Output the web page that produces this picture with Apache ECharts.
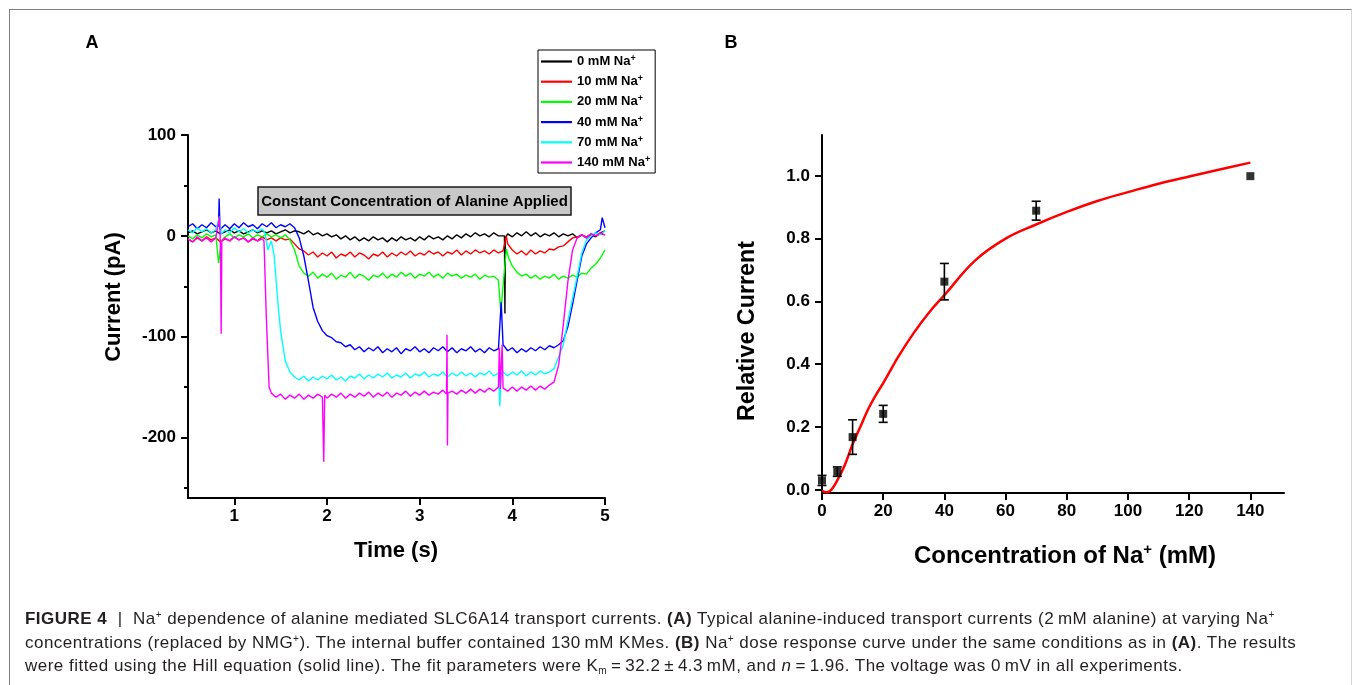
<!DOCTYPE html>
<html>
<head>
<meta charset="utf-8">
<script src="https://cdn.jsdelivr.net/npm/echarts@6/dist/echarts.min.js"></script>
<style>
html,body{margin:0;padding:0;background:#fff;}
#wrap{position:relative;width:1355px;height:685px;overflow:hidden;background:#fff;}
#frame{position:absolute;left:9px;top:9px;width:1343px;height:700px;border-top:1.5px solid #808080;border-left:1.5px solid #808080;border-right:1px solid #d8d8d8;box-sizing:border-box;}
#chart{position:absolute;left:0;top:0;width:1355px;height:685px;}
#cap{position:absolute;left:25px;top:607px;font-family:"Liberation Sans",Arial,sans-serif;font-size:17px;letter-spacing:0.48px;line-height:23.5px;color:#231f20;white-space:nowrap;}
#cap sup{font-size:10px;line-height:0;vertical-align:6px;}
#cap sub{font-size:10px;line-height:0;vertical-align:-3px;}
</style>
</head>
<body>
<div id="wrap">
<div id="frame"></div>
<div id="chart"></div>
<div id="cap">
<div><b>FIGURE 4</b> &nbsp;|&nbsp; Na<sup>+</sup> dependence of alanine mediated SLC6A14 transport currents. <b>(A)</b> Typical alanine-induced transport currents (2&thinsp;mM alanine) at varying Na<sup>+</sup></div>
<div>concentrations (replaced by NMG<sup>+</sup>). The internal buffer contained 130&thinsp;mM KMes. <b>(B)</b> Na<sup>+</sup> dose response curve under the same conditions as in <b>(A)</b>. The results</div>
<div>were fitted using the Hill equation (solid line). The fit parameters were K<sub>m</sub>&thinsp;=&thinsp;32.2&thinsp;±&thinsp;4.3&thinsp;mM, and <i>n</i>&thinsp;=&thinsp;1.96. The voltage was 0&thinsp;mV in all experiments.</div>
</div>
</div>
<script>
// ---------- Panel A data (time in s, current in pA) ----------
const seriesNames = ['0 mM Na+', '10 mM Na+', '20 mM Na+', '40 mM Na+', '70 mM Na+', '140 mM Na+'];
const seriesColors = ['#000000', '#ff0000', '#00ff00', '#0000ff', '#00ffff', '#ff00ff'];
const timeTicks = [1, 2, 3, 4, 5];
const currentTicks = [-200, -100, 0, 100];
const currentMinorTicks = [-250, -150, -50, 50];

const trace0 = [[0.50,3],[0.55,5],[0.60,2],[0.65,4],[0.70,6],[0.75,3],[0.80,5],[0.85,2],[0.90,4],[0.95,6],[1.00,3],[1.05,5],[1.10,2],[1.15,4],[1.20,6],[1.25,3],[1.30,5],[1.35,3],[1.40,5],[1.45,2],[1.50,4],[1.55,6],[1.60,3],[1.65,5],[1.70,4],[1.75,2],[1.80,5],[1.85,1],[1.90,3],[1.95,0],[2.00,2],[2.05,-1],[2.10,1],[2.15,-3],[2.20,0],[2.25,-4],[2.30,-1],[2.35,-5],[2.40,-2],[2.45,-5],[2.50,-1],[2.55,-4],[2.60,-2],[2.65,-6],[2.70,-2],[2.75,-5],[2.80,-1],[2.85,-4],[2.90,-2],[2.95,-5],[3.00,-1],[3.05,-4],[3.10,0],[3.15,-3],[3.20,-1],[3.25,-4],[3.30,0],[3.35,-3],[3.40,1],[3.45,-2],[3.50,2],[3.55,-1],[3.60,3],[3.65,0],[3.70,2],[3.75,-1],[3.80,3],[3.85,0],[3.915,0],[3.92,-77],[3.925,-2],[3.95,2],[4.00,-1],[4.05,3],[4.10,0],[4.15,4],[4.20,0],[4.25,3],[4.30,-1],[4.35,2],[4.40,0],[4.45,3],[4.50,-1],[4.55,2],[4.60,0],[4.65,2],[4.70,-2],[4.75,1],[4.80,-2],[4.85,1],[4.90,-1],[4.95,3],[5.00,5]];

const trace10 = [[0.50,-3],[0.55,-6],[0.60,-2],[0.65,-5],[0.70,-1],[0.75,-4],[0.80,-2],[0.85,-6],[0.90,-3],[0.95,-5],[1.00,-1],[1.05,-4],[1.10,-2],[1.15,-6],[1.20,-3],[1.25,-5],[1.30,-1],[1.35,-4],[1.40,-2],[1.45,-5],[1.50,-2],[1.55,-4],[1.60,-3],[1.65,-8],[1.70,-13],[1.75,-15],[1.80,-19],[1.85,-16],[1.90,-21],[1.95,-17],[2.00,-20],[2.05,-16],[2.10,-22],[2.15,-18],[2.20,-20],[2.25,-16],[2.30,-21],[2.35,-17],[2.40,-19],[2.45,-23],[2.50,-18],[2.55,-20],[2.60,-16],[2.65,-21],[2.70,-17],[2.75,-20],[2.80,-16],[2.85,-19],[2.90,-15],[2.95,-20],[3.00,-17],[3.05,-19],[3.10,-15],[3.15,-18],[3.20,-16],[3.25,-20],[3.30,-16],[3.35,-18],[3.40,-14],[3.45,-19],[3.50,-15],[3.55,-18],[3.60,-14],[3.65,-17],[3.70,-15],[3.75,-18],[3.80,-14],[3.85,-17],[3.90,-15],[3.935,0],[3.95,-8],[4.00,-14],[4.05,-18],[4.10,-15],[4.15,-19],[4.20,-14],[4.25,-18],[4.30,-15],[4.35,-17],[4.40,-13],[4.45,-14],[4.50,-11],[4.55,-10],[4.60,-6],[4.65,-2],[4.70,-1],[4.75,1],[4.80,-1],[4.85,2],[4.90,0],[4.95,2],[5.00,1]];

const trace20 = [[0.50,0],[0.55,-3],[0.60,1],[0.65,-2],[0.70,2],[0.75,-1],[0.80,1],[0.83,-27],[0.86,-5],[0.90,-1],[0.95,2],[1.00,-2],[1.05,1],[1.10,-1],[1.15,2],[1.20,-2],[1.25,1],[1.30,-1],[1.35,2],[1.40,-1],[1.45,1],[1.50,-2],[1.55,1],[1.60,-4],[1.65,-14],[1.70,-30],[1.75,-37],[1.80,-40],[1.85,-36],[1.90,-42],[1.95,-38],[2.00,-41],[2.05,-37],[2.10,-43],[2.15,-39],[2.20,-41],[2.25,-36],[2.30,-42],[2.35,-38],[2.40,-40],[2.45,-44],[2.50,-39],[2.55,-41],[2.60,-37],[2.65,-42],[2.70,-38],[2.75,-41],[2.80,-36],[2.85,-40],[2.90,-37],[2.95,-42],[3.00,-38],[3.05,-40],[3.10,-36],[3.15,-41],[3.20,-38],[3.25,-42],[3.30,-37],[3.35,-40],[3.40,-38],[3.45,-42],[3.50,-39],[3.55,-41],[3.60,-38],[3.65,-43],[3.70,-39],[3.75,-41],[3.80,-40],[3.85,-44],[3.875,-75],[3.89,-60],[3.935,-13],[3.96,-22],[4.00,-30],[4.05,-36],[4.10,-40],[4.15,-38],[4.20,-42],[4.25,-39],[4.30,-43],[4.35,-40],[4.40,-42],[4.45,-38],[4.50,-43],[4.55,-40],[4.60,-42],[4.65,-39],[4.70,-41],[4.75,-37],[4.80,-38],[4.85,-32],[4.90,-28],[4.95,-22],[5.00,-14]];

const trace40 = [[0.50,9],[0.55,12],[0.60,7],[0.65,11],[0.70,8],[0.75,13],[0.80,9],[0.83,10],[0.836,37],[0.845,6],[0.90,11],[0.95,7],[1.00,12],[1.05,8],[1.10,13],[1.15,9],[1.20,11],[1.25,7],[1.30,12],[1.35,9],[1.40,13],[1.45,8],[1.50,11],[1.55,9],[1.60,12],[1.65,8],[1.70,-2],[1.75,-20],[1.80,-45],[1.85,-71],[1.90,-85],[1.95,-94],[2.00,-99],[2.05,-101],[2.10,-105],[2.15,-106],[2.20,-110],[2.25,-108],[2.30,-113],[2.35,-110],[2.40,-115],[2.45,-111],[2.50,-114],[2.55,-110],[2.60,-116],[2.65,-112],[2.70,-115],[2.75,-111],[2.80,-117],[2.85,-112],[2.90,-114],[2.95,-110],[3.00,-115],[3.05,-112],[3.10,-116],[3.15,-111],[3.20,-114],[3.25,-110],[3.30,-115],[3.35,-111],[3.40,-116],[3.45,-112],[3.50,-114],[3.55,-110],[3.60,-115],[3.65,-112],[3.70,-116],[3.75,-111],[3.80,-114],[3.85,-112],[3.88,-66],[3.90,-108],[3.95,-114],[4.00,-111],[4.05,-116],[4.10,-112],[4.15,-115],[4.20,-111],[4.25,-114],[4.30,-110],[4.35,-113],[4.40,-109],[4.45,-111],[4.50,-108],[4.55,-104],[4.60,-90],[4.65,-68],[4.70,-44],[4.75,-20],[4.80,-8],[4.85,-2],[4.90,3],[4.95,6],[4.97,18],[5.00,8]];

const trace70 = [[0.50,6],[0.55,3],[0.60,8],[0.65,4],[0.70,7],[0.75,3],[0.80,6],[0.84,19],[0.86,2],[0.90,6],[0.95,3],[1.00,8],[1.05,4],[1.10,7],[1.15,3],[1.20,6],[1.25,4],[1.30,7],[1.33,3],[1.36,-14],[1.40,-5],[1.43,-20],[1.47,-66],[1.50,-95],[1.55,-124],[1.60,-135],[1.65,-140],[1.70,-143],[1.75,-139],[1.80,-144],[1.85,-140],[1.90,-143],[1.95,-139],[2.00,-142],[2.05,-138],[2.10,-143],[2.15,-140],[2.20,-144],[2.25,-139],[2.30,-141],[2.35,-137],[2.40,-142],[2.45,-138],[2.50,-141],[2.55,-137],[2.60,-140],[2.65,-136],[2.70,-141],[2.75,-138],[2.80,-140],[2.85,-136],[2.90,-141],[2.95,-137],[3.00,-139],[3.05,-135],[3.10,-140],[3.15,-137],[3.20,-139],[3.25,-135],[3.30,-140],[3.35,-136],[3.40,-139],[3.45,-135],[3.50,-139],[3.55,-136],[3.60,-140],[3.65,-136],[3.70,-138],[3.75,-134],[3.80,-139],[3.85,-136],[3.865,-169],[3.88,-137],[3.90,-135],[3.95,-139],[4.00,-135],[4.05,-138],[4.10,-134],[4.15,-139],[4.20,-135],[4.25,-138],[4.30,-134],[4.35,-137],[4.40,-135],[4.45,-132],[4.50,-120],[4.55,-108],[4.60,-84],[4.65,-62],[4.70,-40],[4.75,-17],[4.80,-4],[4.85,0],[4.90,3],[4.95,1],[5.00,5]];

const trace140 = [[0.50,-3],[0.55,-6],[0.60,-1],[0.65,-5],[0.70,-2],[0.75,-6],[0.80,-2],[0.84,19],[0.85,-10],[0.858,-97],[0.865,-5],[0.90,-2],[0.95,-5],[1.00,-1],[1.05,-4],[1.10,-2],[1.15,-6],[1.20,-2],[1.25,-5],[1.30,-3],[1.32,-5],[1.345,-80],[1.375,-150],[1.40,-156],[1.45,-160],[1.50,-157],[1.55,-162],[1.60,-158],[1.65,-161],[1.70,-157],[1.75,-162],[1.80,-158],[1.85,-161],[1.90,-157],[1.95,-160],[1.965,-224],[1.975,-158],[2.00,-161],[2.05,-157],[2.10,-160],[2.15,-156],[2.20,-161],[2.25,-157],[2.30,-160],[2.35,-156],[2.40,-159],[2.45,-155],[2.50,-160],[2.55,-156],[2.60,-159],[2.65,-155],[2.70,-160],[2.75,-156],[2.80,-158],[2.85,-154],[2.90,-159],[2.95,-155],[3.00,-158],[3.05,-154],[3.10,-158],[3.15,-155],[3.20,-157],[3.25,-153],[3.29,-157],[3.295,-98],[3.30,-208],[3.305,-156],[3.35,-154],[3.40,-157],[3.45,-153],[3.50,-156],[3.55,-152],[3.60,-156],[3.65,-152],[3.70,-155],[3.75,-151],[3.80,-154],[3.85,-150],[3.86,-111],[3.87,-152],[3.89,-108],[3.90,-151],[3.95,-154],[4.00,-150],[4.05,-154],[4.10,-150],[4.15,-153],[4.20,-149],[4.25,-153],[4.30,-149],[4.35,-152],[4.40,-148],[4.45,-145],[4.50,-128],[4.55,-88],[4.60,-45],[4.65,-14],[4.70,-2],[4.75,1],[4.80,-2],[4.85,2],[4.90,0],[4.95,3],[5.00,1]];

const traces = [trace0, trace10, trace20, trace40, trace70, trace140];

// ---------- Panel B data ----------
const concTicks = [0, 20, 40, 60, 80, 100, 120, 140];
const relTicks = [0, 0.2, 0.4, 0.6, 0.8, 1.0];
const concB = [0, 5, 10, 20, 40, 70, 140];
const relB = [0.03, 0.058, 0.168, 0.242, 0.663, 0.889, 0.999];
const errB = [0.016, 0.015, 0.055, 0.027, 0.058, 0.03, 0];
const fitX = [0, 1.5, 3, 5, 7.5, 10, 12.5, 15, 17.5, 20, 25, 30, 35, 40, 50, 60, 70, 80, 90, 100, 110, 120, 130, 140];
const fitY = [-0.003, -0.008, 0.0, 0.03, 0.08, 0.145, 0.2, 0.255, 0.3, 0.34, 0.425, 0.5, 0.565, 0.62, 0.73, 0.8, 0.845, 0.885, 0.92, 0.948, 0.975, 0.998, 1.02, 1.042];

const FONT = '"Liberation Sans", Arial, sans-serif';
const tickLabel = {color: '#000', fontFamily: FONT, fontWeight: 'bold', fontSize: 17};
const axisLine = {show: true, onZero: false, lineStyle: {color: '#000', width: 2}};

const chart = echarts.init(document.getElementById('chart'), null, {renderer: 'canvas'});

const lineSeries = traces.map((d, i) => ({
  name: seriesNames[i], type: 'line', xAxisIndex: 0, yAxisIndex: 0,
  data: d, symbol: 'none', showSymbol: false,
  lineStyle: {color: seriesColors[i], width: 1.4},
  itemStyle: {color: seriesColors[i]},
  z: 2 + i
}));

const option = {
  animation: false,
  grid: [
    {left: 188, top: 135, width: 417, height: 363},
    {left: 822, top: 135, width: 462, height: 358}
  ],
  xAxis: [
    {type: 'value', gridIndex: 0, min: 0.5, max: 5,
     axisLine: axisLine,
     axisTick: {show: true, customValues: timeTicks, length: 7, lineStyle: {color: '#000', width: 2}},
     axisLabel: Object.assign({customValues: timeTicks, margin: 10}, tickLabel),
     splitLine: {show: false}},
    {type: 'value', gridIndex: 1, min: 0, max: 151,
     axisLine: axisLine,
     axisTick: {show: true, customValues: concTicks, length: 7, lineStyle: {color: '#000', width: 2}},
     axisLabel: Object.assign({customValues: concTicks, margin: 10}, tickLabel),
     splitLine: {show: false}}
  ],
  yAxis: [
    {type: 'value', gridIndex: 0, min: -260, max: 100, position: 'left',
     axisLine: axisLine,
     axisTick: {show: true, customValues: currentTicks, length: 7, lineStyle: {color: '#000', width: 2}},
     axisLabel: Object.assign({customValues: currentTicks, margin: 12}, tickLabel),
     splitLine: {show: false}},
    {type: 'value', gridIndex: 0, min: -260, max: 100, position: 'left', offset: 0,
     axisLine: {show: false},
     axisTick: {show: true, customValues: currentMinorTicks, length: 4, lineStyle: {color: '#000', width: 2}},
     axisLabel: {show: false},
     splitLine: {show: false}},
    {type: 'value', gridIndex: 1, min: -0.01, max: 1.13, position: 'left',
     axisLine: axisLine,
     axisTick: {show: true, customValues: relTicks, length: 7, lineStyle: {color: '#000', width: 2}},
     axisLabel: Object.assign({customValues: relTicks, margin: 12, formatter: v => v.toFixed(1)}, tickLabel),
     splitLine: {show: false}}
  ],
  legend: {
    data: seriesNames.map(n => ({name: n, icon: 'path://M0,0H31V2.2H0Z'})),
    orient: 'vertical', left: 538, top: 50,
    itemWidth: 31, itemHeight: 14, itemGap: 6.2,
    padding: [4, 5, 4, 3],
    borderColor: '#000', borderWidth: 1, backgroundColor: '#fff',
    selectedMode: false,
    formatter: name => '{n|' + name.replace('+', '') + '}{s|+}',
    textStyle: {
      padding: [0, 0, 0, 0],
      rich: {
        n: {fontFamily: FONT, fontWeight: 'bold', fontSize: 13, color: '#000', lineHeight: 15},
        s: {fontFamily: FONT, fontWeight: 'bold', fontSize: 9, color: '#000', lineHeight: 15, verticalAlign: 'top'}
      }
    }
  },
  graphic: [
    {type: 'text', x: 92, y: 43, style: {text: 'A', font: 'bold 18px ' + FONT, fill: '#000', align: 'center', verticalAlign: 'middle'}},
    {type: 'text', x: 731, y: 43, style: {text: 'B', font: 'bold 18px ' + FONT, fill: '#000', align: 'center', verticalAlign: 'middle'}},
    {type: 'rect', shape: {x: 258, y: 187, width: 313, height: 28}, style: {fill: '#c8c8c8', stroke: '#1a1a1a', lineWidth: 1.5}, z: 50},
    {type: 'text', x: 414.5, y: 201.5, z: 51, style: {text: 'Constant Concentration of Alanine Applied', font: 'bold 15px ' + FONT, fill: '#000', align: 'center', verticalAlign: 'middle'}},
    {type: 'text', x: 114, y: 297, rotation: Math.PI / 2, style: {text: 'Current (pA)', font: 'bold 22px ' + FONT, fill: '#000', align: 'center', verticalAlign: 'middle'}},
    {type: 'text', x: 396, y: 551, style: {text: 'Time (s)', font: 'bold 22px ' + FONT, fill: '#000', align: 'center', verticalAlign: 'middle'}},
    {type: 'text', x: 748, y: 331, rotation: Math.PI / 2, style: {text: 'Relative Current', font: 'bold 23.3px ' + FONT, fill: '#000', align: 'center', verticalAlign: 'middle'}},
    {type: 'text', x: 1065, y: 556, style: {
      text: '{b|Concentration of Na}{s|+}{b| (mM)}', align: 'center', verticalAlign: 'middle',
      rich: {
        b: {font: 'bold 24px ' + FONT, fill: '#000', lineHeight: 28},
        s: {font: 'bold 15px ' + FONT, fill: '#000', lineHeight: 17, verticalAlign: 'top'}
      }}}
  ],
  series: lineSeries.concat([
    {name: 'Hill fit', type: 'line', xAxisIndex: 1, yAxisIndex: 2,
     data: fitX.map((x, i) => [x, fitY[i]]), smooth: 0.4, symbol: 'none',
     lineStyle: {color: '#ff0000', width: 2.5}, z: 3},
    {name: 'Errors', type: 'custom', xAxisIndex: 1, yAxisIndex: 2, clip: false, z: 4,
     data: concB.map((c, i) => [c, relB[i], errB[i]]),
     renderItem: function (params, api) {
       const x = api.value(0), y = api.value(1), e = api.value(2);
       if (!e) return {type: 'group', children: []};
       const t = api.coord([x, y + e]), b = api.coord([x, y - e]);
       const hw = 4.5, st = {stroke: '#000', lineWidth: 1.6};
       return {type: 'group', children: [
         {type: 'line', shape: {x1: t[0], y1: t[1], x2: b[0], y2: b[1]}, style: st},
         {type: 'line', shape: {x1: t[0] - hw, y1: t[1], x2: t[0] + hw, y2: t[1]}, style: st},
         {type: 'line', shape: {x1: b[0] - hw, y1: b[1], x2: b[0] + hw, y2: b[1]}, style: st}
       ]};
     }},
    {name: 'Mean', type: 'scatter', xAxisIndex: 1, yAxisIndex: 2, clip: false, z: 5,
     data: concB.map((c, i) => [c, relB[i]]), symbol: 'rect', symbolSize: 8,
     itemStyle: {color: '#000'}}
  ])
};
chart.setOption(option);
</script>
</body>
</html>
